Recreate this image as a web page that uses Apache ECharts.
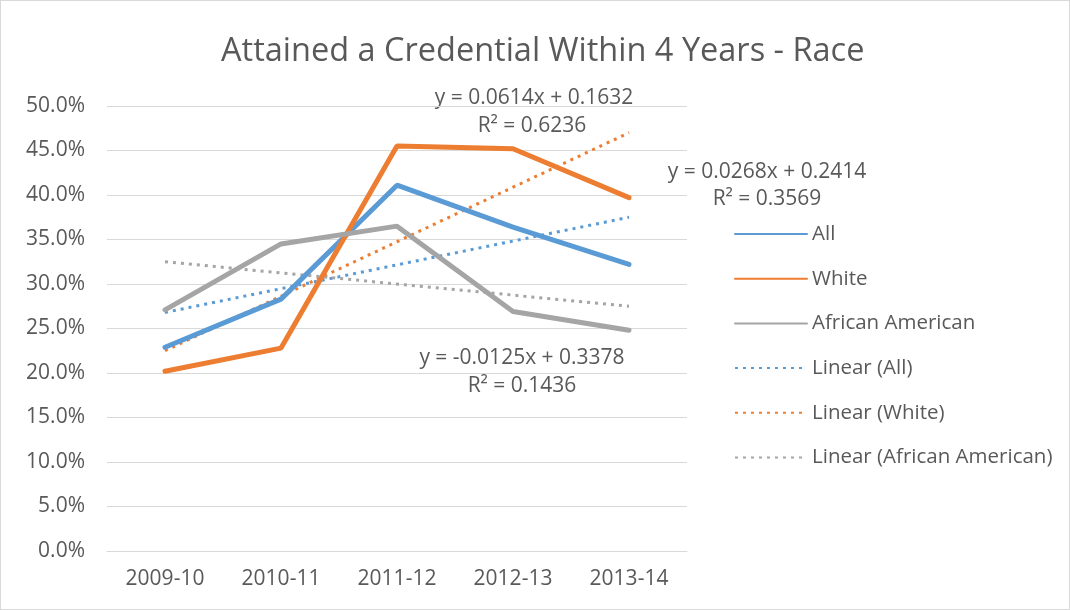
<!DOCTYPE html>
<html>
<head>
<meta charset="utf-8">
<script src="https://cdn.jsdelivr.net/npm/echarts@6/dist/echarts.min.js"></script>
<style>
  html, body { margin: 0; padding: 0; background: #fff; }
  #main { width: 1070px; height: 610px; box-sizing: border-box; border: 1px solid #d9d9d9; }
</style>
</head>
<body>
<div id="main"></div>
<script>
// categories and values
var years = ['2009-10', '2010-11', '2011-12', '2012-13', '2013-14'];
var allVals = [0.229, 0.283, 0.411, 0.364, 0.322];
var whiteVals = [0.202, 0.228, 0.455, 0.452, 0.397];
var aaVals = [0.271, 0.345, 0.365, 0.269, 0.248];
// trend line start / end values (first and last category)
var trendAll = [0.268, 0.375];
var trendWhite = [0.225, 0.470];
var trendAA = [0.325, 0.275];
var yTicks = ['0.0%', '5.0%', '10.0%', '15.0%', '20.0%', '25.0%', '30.0%', '35.0%', '40.0%', '45.0%', '50.0%'];

var txt = '#595959';
var font = '"Open Sans", sans-serif';

function ends(arr) {
    // put values at first and last category, gaps between
    var out = years.map(function () { return null; });
    out[0] = arr[0];
    out[years.length - 1] = arr[1];
    return out;
}

function eq(x, y, s) {
    return { type: 'text', x: x, y: y, style: { text: s, fontSize: 21, fill: txt, fontFamily: font, textAlign: 'center', textVerticalAlign: 'middle' } };
}

var myChart = echarts.init(document.getElementById('main'));
var option = {
    animation: false,
    textStyle: { fontFamily: font },
    title: {
        text: 'Attained a Credential Within 4 Years - Race',
        left: 215,
        top: 29,
        textStyle: { fontSize: 32.5, fontWeight: 'normal', color: txt, fontFamily: font }
    },
    grid: { left: 106, right: 382, top: 105, bottom: 58 },
    legend: {
        orient: 'vertical',
        left: 728,
        top: 214,
        itemWidth: 72,
        itemHeight: 10,
        itemGap: 16.7,
        itemStyle: { opacity: 0, borderWidth: 0 },
        textStyle: { fontSize: 20.5, color: txt, fontFamily: font, lineHeight: 28 },
        data: ['All', 'White', 'African American', 'Linear (All)', 'Linear (White)', 'Linear (African American)']
    },
    xAxis: {
        type: 'category',
        data: years,
        boundaryGap: true,
        axisLine: { lineStyle: { color: '#d9d9d9', width: 1 } },
        axisTick: { show: false },
        axisLabel: { fontSize: 21, color: txt, margin: 18, fontFamily: font }
    },
    yAxis: {
        type: 'value',
        min: 0,
        max: 0.5,
        interval: 0.05,
        axisLine: { show: false },
        axisTick: { show: false },
        splitLine: { lineStyle: { color: '#d9d9d9', width: 1 } },
        axisLabel: {
            fontSize: 21, color: txt, margin: 22, fontFamily: font,
            formatter: function (v) { return yTicks[Math.round(v / 0.05)]; }
        }
    },
    series: [
        { name: 'All', type: 'line', data: allVals, symbol: 'none', lineStyle: { color: '#5b9bd5', width: 5, cap: 'round' }, itemStyle: { color: '#5b9bd5' }, z: 3 },
        { name: 'White', type: 'line', data: whiteVals, symbol: 'none', lineStyle: { color: '#ed7d31', width: 5, cap: 'round' }, itemStyle: { color: '#ed7d31' }, z: 3 },
        { name: 'African American', type: 'line', data: aaVals, symbol: 'none', lineStyle: { color: '#a5a5a5', width: 5, cap: 'round' }, itemStyle: { color: '#a5a5a5' }, z: 3 },
        { name: 'Linear (All)', type: 'line', data: ends(trendAll), connectNulls: true, symbol: 'none', lineStyle: { color: '#5b9bd5', width: 3, type: [3, 5] }, itemStyle: { color: '#5b9bd5' }, z: 2 },
        { name: 'Linear (White)', type: 'line', data: ends(trendWhite), connectNulls: true, symbol: 'none', lineStyle: { color: '#ed7d31', width: 3, type: [3, 5] }, itemStyle: { color: '#ed7d31' }, z: 2 },
        { name: 'Linear (African American)', type: 'line', data: ends(trendAA), connectNulls: true, symbol: 'none', lineStyle: { color: '#a5a5a5', width: 3, type: [3, 5] }, itemStyle: { color: '#a5a5a5' }, z: 2 }
    ],
    graphic: [
        eq(533, 97, 'y = 0.0614x + 0.1632'),
        eq(531, 125, 'R² = 0.6236'),
        eq(766, 171, 'y = 0.0268x + 0.2414'),
        eq(766, 198, 'R² = 0.3569'),
        eq(521, 357, 'y = -0.0125x + 0.3378'),
        eq(521, 385, 'R² = 0.1436')
    ]
};
myChart.setOption(option);
</script>
</body>
</html>
